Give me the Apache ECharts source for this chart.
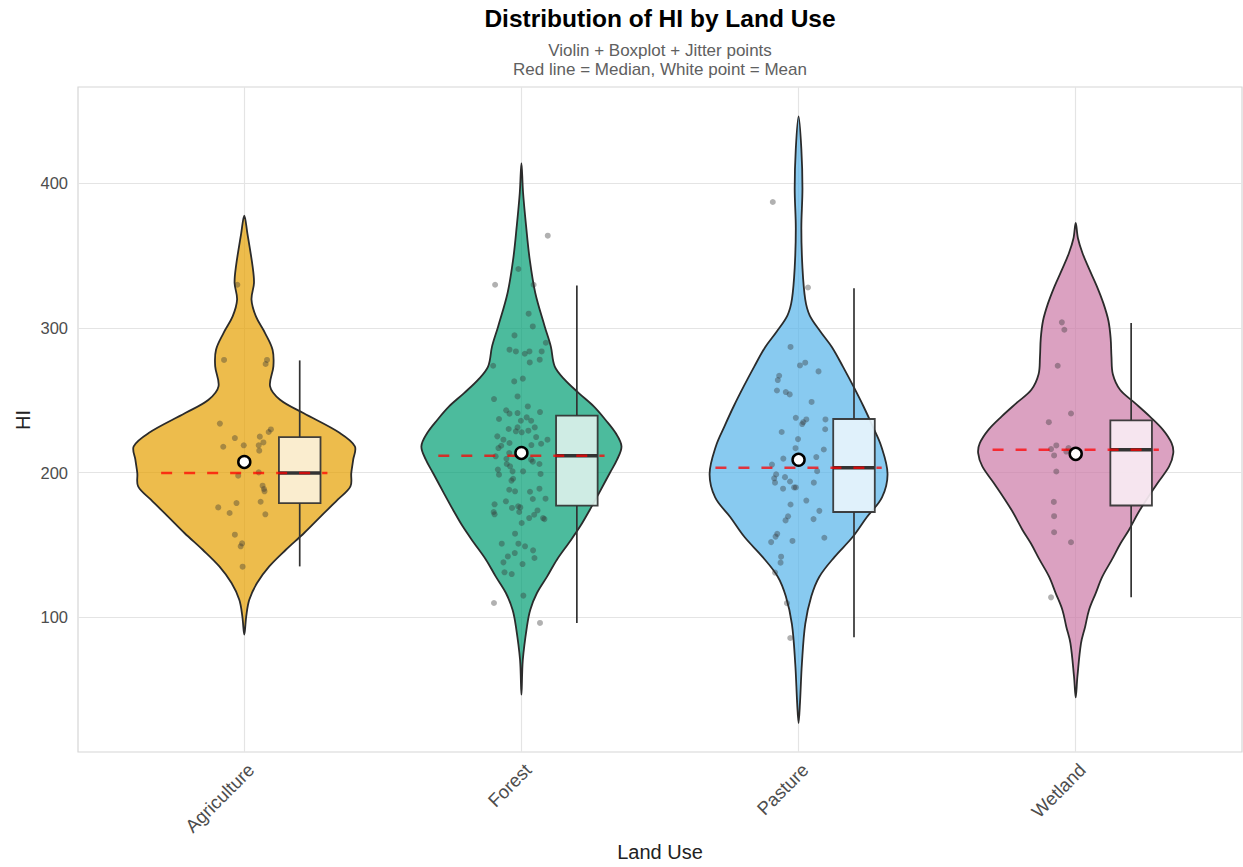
<!DOCTYPE html>
<html>
<head>
<meta charset="utf-8">
<script src="https://cdn.jsdelivr.net/npm/echarts@6/dist/echarts.min.js"></script>
<style>
html,body{margin:0;padding:0;background:#ffffff;}
#chart{width:1243px;height:867px;}
</style>
</head>
<body>
<div id="chart"></div>
<script>
// ---------------- data ----------------
const categories = ['Agriculture', 'Forest', 'Pasture', 'Wetland'];
const yTicks = [100, 200, 300, 400];

// box statistics: [lower whisker, Q1, median, Q3, upper whisker]
const boxAgriculture = [135.2, 179.0, 199.8, 224.6, 277.6];
const boxForest      = [96.1, 177.2, 211.7, 239.4, 329.4];
const boxPasture     = [86.3, 172.8, 203.4, 237.1, 327.5];
const boxWetland     = [113.8, 177.3, 215.8, 236.1, 303.5];

const means = [207.4, 213.6, 208.9, 213.0];

// violin density profiles: [HI value, half width in category units]
const violinAgriculture = [[377.6,0],[365.6,0.011],[342.6,0.030],[331.1,0.035],[319.6,0.026],[308.0,0.042],[296.5,0.075],[285.0,0.102],[273.5,0.105],[259.6,0.093],[250.4,0.129],[241.2,0.213],[227.4,0.345],[218.2,0.399],[209.0,0.393],[199.7,0.386],[190.5,0.383],[181.3,0.337],[169.8,0.276],[158.3,0.216],[146.7,0.150],[135.2,0.090],[123.7,0.046],[112.2,0.018],[100.7,0.007],[88.0,0]];
const violinForest = [[414.0,0],[393.3,0.006],[370.2,0.017],[347.2,0.030],[324.2,0.050],[301.1,0.084],[287.3,0.106],[273.5,0.120],[264.3,0.156],[255.0,0.207],[245.8,0.261],[236.6,0.303],[227.4,0.340],[218.2,0.361],[209.0,0.345],[199.8,0.319],[185.9,0.280],[174.4,0.247],[162.9,0.212],[151.4,0.171],[139.8,0.128],[128.3,0.093],[116.8,0.056],[105.3,0.032],[93.8,0.020],[70.7,0.005],[46.5,0]];
const violinPasture = [[446.3,0],[423.8,0.010],[396.4,0.014],[369.0,0.010],[341.6,0.014],[319.8,0.024],[308.8,0.040],[297.8,0.078],[286.9,0.120],[273.3,0.160],[259.6,0.198],[245.9,0.234],[232.2,0.267],[218.5,0.298],[199.3,0.321],[182.9,0.301],[169.2,0.246],[155.5,0.195],[141.8,0.130],[128.1,0.075],[114.5,0.046],[95.3,0.024],[67.9,0.012],[40.5,0.005],[26.9,0]];
const violinWetland = [[372.7,0],[362.0,0.008],[352.0,0.024],[341.0,0.048],[329.0,0.076],[317.0,0.100],[305.0,0.118],[293.0,0.126],[280.0,0.129],[268.0,0.134],[257.3,0.160],[248.1,0.214],[238.9,0.267],[229.6,0.315],[220.4,0.346],[213.5,0.352],[204.3,0.337],[192.7,0.295],[174.3,0.232],[160.4,0.192],[151.2,0.162],[139.7,0.130],[128.1,0.096],[116.6,0.072],[105.1,0.048],[93.5,0.034],[82.0,0.019],[58.9,0.006],[44.6,0]];

// jitter points: [horizontal jitter in category units, HI value]
const jitterAgriculture = [[-0.025,329.9],[-0.073,277.9],[0.082,277.9],[0.077,275.1],[-0.088,233.9],[0.096,229.9],[0.088,228.1],[-0.034,223.9],[0.056,224.9],[-0.076,217.9],[-0.002,218.9],[0.069,220.9],[0.052,218.9],[0.054,215.2],[-0.022,197.9],[0.052,200.2],[0.066,191.0],[0.071,188.7],[0.073,187.1],[-0.028,179.0],[0.059,179.9],[-0.094,176.0],[-0.053,172.1],[0.076,171.2],[-0.034,157.1],[-0.008,151.1],[-0.013,149.1],[-0.006,135.0]];
const jitterForest = [[0.095,363.8],[-0.011,340.8],[-0.095,329.9],[0.044,329.9],[0.026,309.9],[0.041,301.1],[-0.025,294.9],[0.088,289.8],[-0.043,285.0],[-0.020,283.8],[0.012,282.2],[0.029,283.8],[0.073,283.8],[0.030,276.2],[0.066,278.1],[-0.102,273.9],[-0.026,263.1],[0.005,265.0],[-0.099,250.9],[-0.014,252.7],[-0.055,243.1],[-0.043,240.8],[-0.014,241.2],[0.023,245.8],[-0.081,237.1],[-0.002,235.9],[0.019,238.2],[0.035,235.9],[0.067,241.9],[-0.046,230.2],[-0.014,231.3],[-0.020,228.6],[0.001,227.9],[0.025,229.0],[0.048,231.3],[-0.087,225.1],[-0.065,222.8],[-0.043,220.5],[-0.073,218.6],[-0.083,217.0],[0.036,219.1],[0.053,224.6],[0.071,220.0],[0.094,222.8],[-0.093,211.3],[-0.044,213.6],[-0.054,209.6],[0.035,209.0],[0.041,207.6],[-0.053,206.0],[-0.041,204.4],[-0.085,202.1],[-0.081,198.6],[-0.032,200.9],[0.006,200.9],[0.065,206.0],[0.069,199.1],[-0.036,194.5],[-0.030,195.8],[-0.044,188.2],[-0.023,187.1],[0.031,186.8],[0.065,188.9],[0.041,181.8],[0.087,182.0],[-0.056,180.2],[-0.097,178.1],[-0.100,172.8],[-0.097,171.2],[-0.034,175.6],[-0.012,176.7],[-0.004,176.0],[-0.008,172.8],[0.001,165.2],[0.028,168.6],[0.046,170.9],[0.058,173.9],[0.078,168.6],[0.083,167.9],[-0.023,157.8],[-0.071,150.9],[-0.011,150.9],[0.013,149.1],[0.042,146.3],[-0.049,142.1],[-0.024,144.4],[0.047,141.0],[-0.065,138.0],[0.004,136.8],[-0.061,131.1],[-0.035,129.9],[0.007,115.0],[-0.099,109.9],[0.067,96.1]];
const jitterPasture = [[-0.093,387.1],[0.034,328.0],[-0.029,286.9],[0.005,274.1],[0.024,276.0],[0.072,270.0],[-0.070,267.0],[-0.075,264.0],[-0.078,256.8],[-0.046,255.7],[-0.032,254.1],[0.047,248.9],[-0.010,237.9],[0.017,234.9],[0.028,236.8],[0.013,233.6],[0.097,236.8],[0.096,230.0],[-0.061,228.1],[-0.002,223.2],[-0.011,216.9],[0.091,216.0],[-0.055,209.7],[0.064,210.8],[-0.096,205.6],[-0.081,198.8],[0.067,201.0],[-0.088,196.1],[-0.085,193.1],[-0.049,196.9],[-0.031,193.9],[0.055,193.1],[-0.056,188.9],[-0.016,189.8],[-0.010,189.8],[0.028,180.7],[-0.029,178.0],[0.075,173.6],[-0.038,169.8],[-0.047,167.0],[0.054,167.9],[-0.077,157.7],[-0.083,155.8],[-0.099,152.0],[-0.022,152.8],[0.093,155.0],[-0.063,141.9],[-0.065,137.8],[-0.085,130.9],[-0.042,109.8],[-0.030,85.7]];
const jitterWetland = [[-0.050,303.9],[-0.041,298.8],[-0.065,273.9],[-0.017,240.9],[-0.097,234.9],[-0.070,218.8],[-0.089,216.3],[-0.078,211.9],[-0.026,217.0],[-0.034,214.6],[-0.070,200.8],[-0.079,179.8],[-0.078,169.9],[-0.078,158.8],[-0.017,151.9],[-0.089,113.8]];

// ---------------- styles ----------------
const violinColors = ['rgba(230,159,0,0.7)', 'rgba(0,158,115,0.7)', 'rgba(86,180,233,0.7)', 'rgba(204,121,167,0.7)'];
const boxColors = ['#fbf1d9', '#d9f0ea', '#e6f4fc', '#f7ebf2'];
const FONT = '"Liberation Sans", Arial, Helvetica, sans-serif';
const BOX_OFFSET = 0.2, BOX_HALF = 0.075, MEDIAN_HALF = 0.3;

const boxes = [boxAgriculture, boxForest, boxPasture, boxWetland];
const violins = [violinAgriculture, violinForest, violinPasture, violinWetland];
const jitters = [jitterAgriculture, jitterForest, jitterPasture, jitterWetland];

const catData = categories.map((c, i) => [i, boxes[i][2]]);
const jitterData = [];
jitters.forEach((arr, i) => arr.forEach(p => jitterData.push([i + p[0], p[1]])));
const meanData = means.map((m, i) => [i, m]);

function renderViolin(params, api) {
  const i = api.value(0);
  const prof = violins[i];
  const pts = [];
  for (let k = 0; k < prof.length; k++) pts.push(api.coord([i + prof[k][1], prof[k][0]]));
  for (let k = prof.length - 2; k >= 1; k--) pts.push(api.coord([i - prof[k][1], prof[k][0]]));
  return {
    type: 'polygon',
    shape: { points: pts, smooth: 0.35 },
    style: { fill: violinColors[i], stroke: '#2b2b2b', lineWidth: 1.8 }
  };
}

function renderBox(params, api) {
  const i = api.value(0);
  const b = boxes[i];
  const xc = i + BOX_OFFSET;
  const top = api.coord([xc, b[4]]);
  const q3 = api.coord([xc - BOX_HALF, b[3]]);
  const q1 = api.coord([xc + BOX_HALF, b[1]]);
  const bot = api.coord([xc, b[0]]);
  const mL = api.coord([xc - BOX_HALF, b[2]]);
  const mR = api.coord([xc + BOX_HALF, b[2]]);
  const lineStyle = { stroke: '#333333', lineWidth: 1.7 };
  return {
    type: 'group',
    children: [
      { type: 'line', shape: { x1: top[0], y1: top[1], x2: top[0], y2: q3[1] }, style: lineStyle },
      { type: 'line', shape: { x1: bot[0], y1: bot[1], x2: bot[0], y2: q1[1] }, style: lineStyle },
      { type: 'rect', shape: { x: q3[0], y: q3[1], width: q1[0] - q3[0], height: q1[1] - q3[1] },
        style: { fill: boxColors[i], stroke: '#333333', lineWidth: 1.8, opacity: 0.93 } },
      { type: 'line', shape: { x1: mL[0], y1: mL[1], x2: mR[0], y2: mR[1] }, style: { stroke: '#333333', lineWidth: 3.4 } }
    ]
  };
}

function renderMedian(params, api) {
  const i = api.value(0);
  const m = boxes[i][2];
  const a = api.coord([i - MEDIAN_HALF, m]);
  const b = api.coord([i + MEDIAN_HALF, m]);
  return {
    type: 'line',
    shape: { x1: a[0], y1: a[1], x2: b[0], y2: b[1] },
    style: { stroke: 'rgba(255,0,0,0.74)', lineWidth: 2.5, lineDash: [11, 12] }
  };
}

const chart = echarts.init(document.getElementById('chart'), null, { renderer: 'svg' });

const option = {
  animation: false,
  backgroundColor: '#ffffff',
  textStyle: { fontFamily: FONT },
  grid: { left: 78, right: 1, top: 87, bottom: 115, show: true, borderColor: '#d6d6d6', borderWidth: 1.2, backgroundColor: '#ffffff' },
  xAxis: {
    type: 'value', min: -0.6, max: 3.6,
    axisLine: { show: false },
    axisTick: { show: false, customValues: [0, 1, 2, 3] },
    splitLine: { show: true, lineStyle: { color: '#e4e4e4', width: 1.2 } },
    axisLabel: {
      customValues: [0, 1, 2, 3],
      formatter: v => categories[Math.round(v)],
      rotate: 45, align: 'right', verticalAlign: 'top', margin: 8,
      fontSize: 18.5, color: '#4d4d4d', fontFamily: FONT
    }
  },
  yAxis: {
    type: 'value', min: 6.9, max: 466.6,
    axisLine: { show: false },
    axisTick: { show: false, customValues: yTicks },
    splitLine: { show: true, lineStyle: { color: '#e4e4e4', width: 1.2 } },
    axisLabel: { customValues: yTicks, fontSize: 16.5, color: '#4d4d4d', margin: 10, fontFamily: FONT }
  },
  graphic: [
    { type: 'text', x: 660, y: 18.5, style: { text: 'Distribution of HI by Land Use', font: 'bold 24.5px ' + FONT, fill: '#000000', align: 'center', verticalAlign: 'middle', textAlign: 'center', textVerticalAlign: 'middle' } },
    { type: 'text', x: 660, y: 50, style: { text: 'Violin + Boxplot + Jitter points', font: '17px ' + FONT, fill: '#606060', align: 'center', verticalAlign: 'middle', textAlign: 'center', textVerticalAlign: 'middle' } },
    { type: 'text', x: 660, y: 69.5, style: { text: 'Red line = Median, White point = Mean', font: '17px ' + FONT, fill: '#606060', align: 'center', verticalAlign: 'middle', textAlign: 'center', textVerticalAlign: 'middle' } },
    { type: 'text', x: 660, y: 852, style: { text: 'Land Use', font: '20px ' + FONT, fill: '#222222', align: 'center', verticalAlign: 'middle', textAlign: 'center', textVerticalAlign: 'middle' } },
    { type: 'text', x: 23, y: 420, rotation: Math.PI / 2, style: { text: 'HI', font: '20px ' + FONT, fill: '#222222', align: 'center', verticalAlign: 'middle', textAlign: 'center', textVerticalAlign: 'middle' } }
  ],
  series: [
    { type: 'custom', name: 'violin', renderItem: renderViolin, data: catData, encode: { x: 0, y: 1 }, z: 2, silent: true },
    { type: 'custom', name: 'box', renderItem: renderBox, data: catData, encode: { x: 0, y: 1 }, z: 3, silent: true },
    { type: 'scatter', name: 'jitter', data: jitterData, symbol: 'circle', symbolSize: 6, itemStyle: { color: 'rgba(51,51,51,0.48)' }, z: 4, silent: true },
    { type: 'custom', name: 'median', renderItem: renderMedian, data: catData, encode: { x: 0, y: 1 }, z: 5, silent: true },
    { type: 'scatter', name: 'mean', data: meanData, symbol: 'circle', symbolSize: 12, itemStyle: { color: '#ffffff', borderColor: '#000000', borderWidth: 2.5, opacity: 1 }, z: 6, silent: true }
  ]
};
chart.setOption(option);
</script>
</body>
</html>
